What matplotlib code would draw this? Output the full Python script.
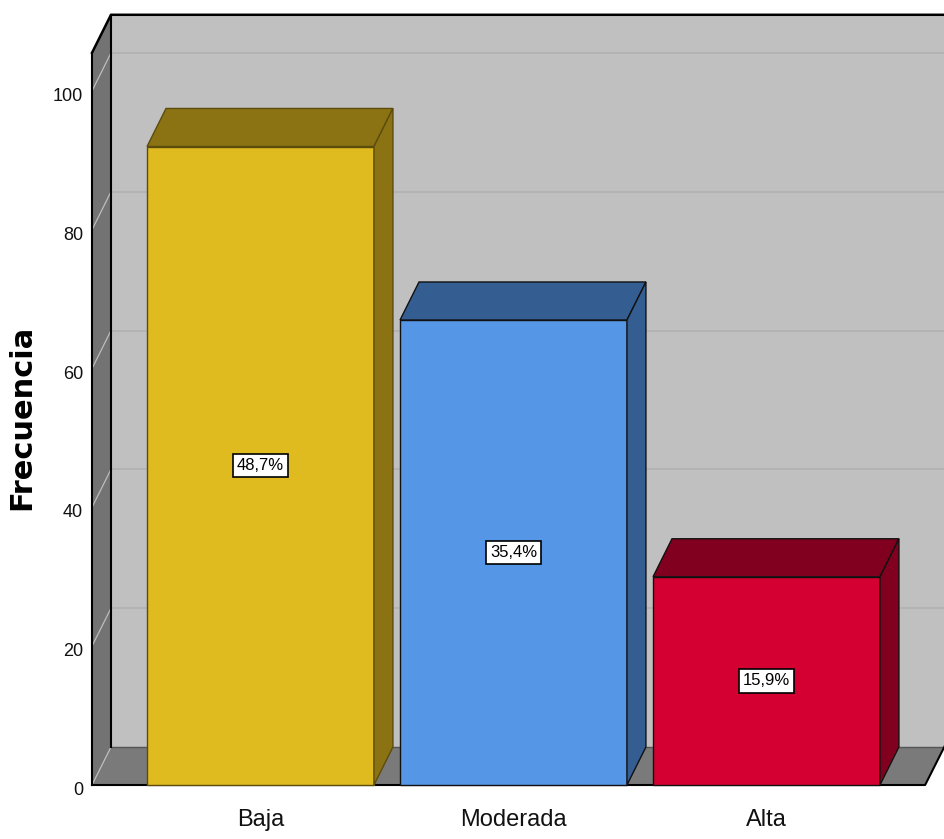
import matplotlib
matplotlib.use('Agg')
import matplotlib.pyplot as plt
from matplotlib.patches import Polygon, Rectangle

# datos
categorias = ['Baja', 'Moderada', 'Alta']
frecuencias = [92, 67, 30]
porcentajes = ['48,7%', '35,4%', '15,9%']
colores_frente = ['#e0bb20', '#5596e6', '#d50032']
colores_sombra = ['#8b7314', '#345d91', '#82001f']
colores_borde = ['#5c4c0c', '#111111', '#111111']
ticks_y = [0, 20, 40, 60, 80, 100]

narrow = ['Liberation Sans Narrow', 'Liberation Sans', 'DejaVu Sans']

# geometria (unidades de datos)
DX = 0.075     # profundidad en x
DY = 5.48      # profundidad en y
W = 0.897      # ancho barra
XF = -0.666    # borde frontal izquierdo
XR = 2.627     # borde frontal derecho del piso
TOP = 105.5

fig = plt.figure(figsize=(9.44, 8.39), dpi=100)
ax = fig.add_axes([0, 0, 1, 1])
ax.set_xlim(-1.0296, 2.7016)
ax.set_ylim(-7.78, 113.11)
ax.axis('off')

# pared del fondo
ax.add_patch(Rectangle((XF + DX, DY), 5, TOP, facecolor='#c0c0c0', edgecolor='none', zorder=0))
# pared izquierda
ax.add_patch(Polygon([(XF, 0), (XF, TOP), (XF + DX, TOP + DY), (XF + DX, DY)],
                     closed=True, facecolor='#737373', edgecolor='none', zorder=0))
# piso
ax.add_patch(Polygon([(XF, 0), (XR, 0), (XR + DX, DY), (XF + DX, DY)],
                     closed=True, facecolor='#7a7a7a', edgecolor='none', zorder=0))

# lineas de cuadricula
for t in ticks_y:
    if t > 0:
        ax.plot([XF + DX, 5], [t + DY, t + DY], color='#b2b2b2', lw=1.3, zorder=1)
    ax.plot([XF, XF + DX], [t, t + DY], color='#bdbdbd', lw=0.9, zorder=1)
    ax.text(XF - 0.035, t - 0.8, str(t), ha='right', va='center', fontsize=13,
            family=narrow, color='#111111')

# bordes negros
ax.plot([XF, XF], [0, TOP], color='black', lw=1.5, zorder=2)
ax.plot([XF, XF + DX, 5], [TOP, TOP + DY, TOP + DY], color='black', lw=1.8, zorder=2)
ax.plot([XF + DX, XF + DX], [DY, TOP + DY], color='black', lw=1.5, zorder=2)
ax.plot([XF + DX, 5], [DY, DY], color='#555555', lw=1, zorder=1)
ax.plot([XF, XR, XR + DX + 0.02], [0, 0, DY + 1.4], color='black', lw=1.5, zorder=2)

# barras 3D
for i in range(len(categorias)):
    h = frecuencias[i]
    x0 = i - W / 2
    x1 = i + W / 2
    ax.add_patch(Rectangle((x0, 0), W, h, facecolor=colores_frente[i],
                           edgecolor=colores_borde[i], lw=1, zorder=3))
    ax.add_patch(Polygon([(x0, h), (x1, h), (x1 + DX, h + DY), (x0 + DX, h + DY)], closed=True,
                         facecolor=colores_sombra[i], edgecolor=colores_borde[i], lw=1, zorder=3))
    ax.add_patch(Polygon([(x1, 0), (x1 + DX, DY), (x1 + DX, h + DY), (x1, h)], closed=True,
                         facecolor=colores_sombra[i], edgecolor=colores_borde[i], lw=1, zorder=3))
    ax.text(i, h / 2, porcentajes[i], ha='center', va='center', fontsize=12, family=narrow,
            zorder=4, bbox=dict(boxstyle='square,pad=0.25', facecolor='white',
                                edgecolor='black', lw=1.2))
    ax.text(i, -5.0, categorias[i], ha='center', va='center', fontsize=17, family=narrow,
            color='#111111')

ax.text(-0.943, 52.9, 'Frecuencia', rotation=90, ha='center', va='center',
        fontsize=22, fontweight='bold', family='DejaVu Sans')

plt.savefig('out.png', dpi=100)
